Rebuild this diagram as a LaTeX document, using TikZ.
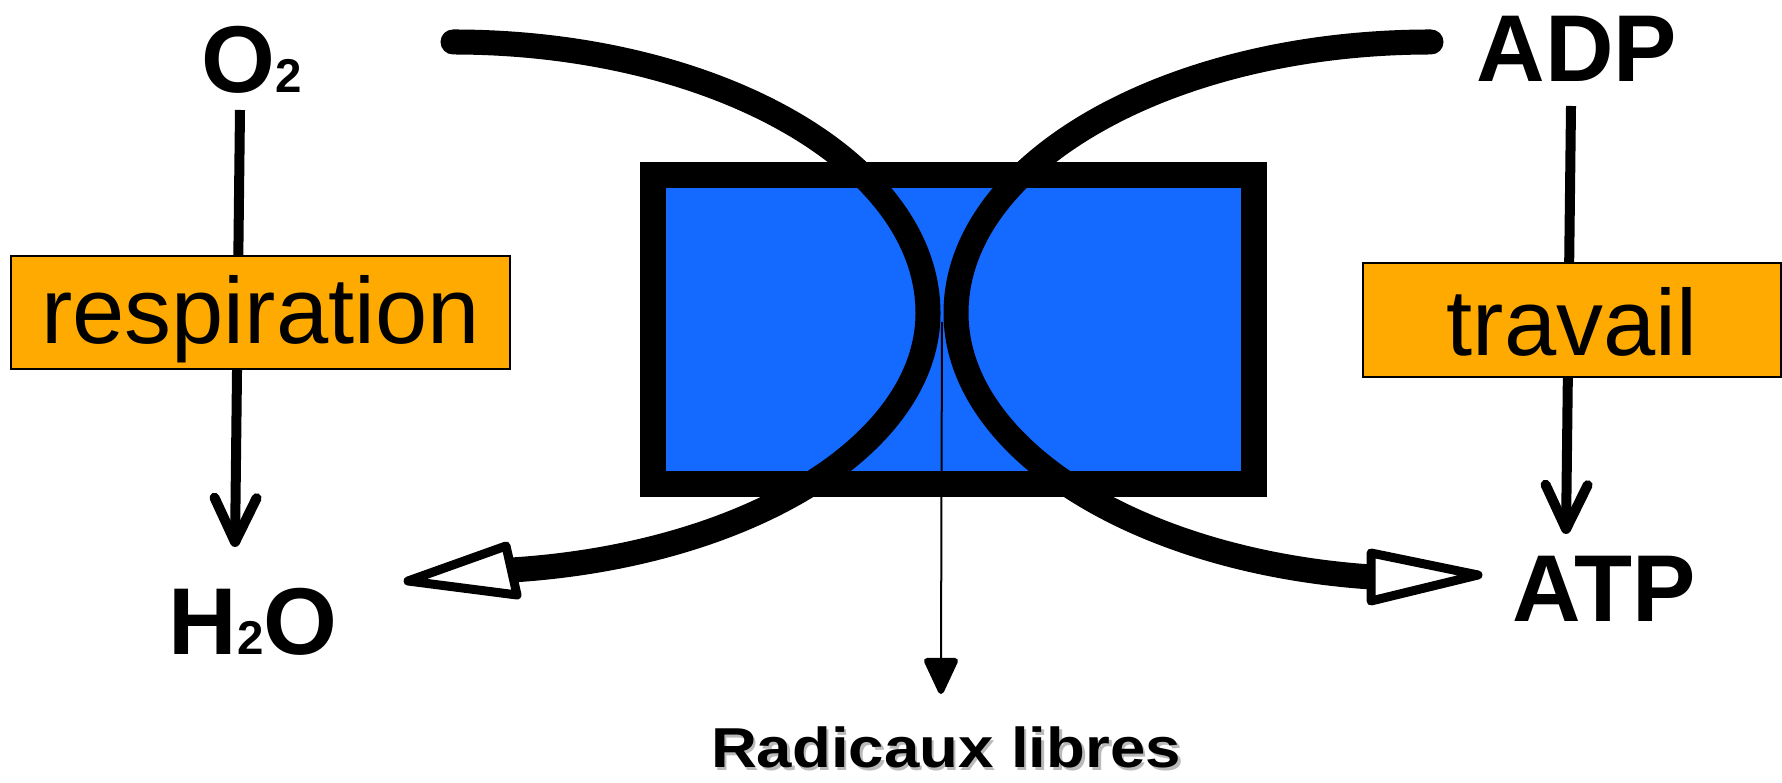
\documentclass[tikz,border=0pt]{standalone}
\usepackage{fontspec}
\setmainfont{Liberation Sans}
\usetikzlibrary{arrows.meta}
\definecolor{mitoblue}{RGB}{20,105,255}
\definecolor{labelorange}{RGB}{255,170,0}
\newcommand\chemsub[1]{{\fontsize{13.5}{15}\selectfont #1}}

\begin{document}
\begin{tikzpicture}[x=0.01cm, y=-0.01cm,
  species/.style={inner sep=0pt, anchor=base, font=\fontsize{27}{30}\selectfont\bfseries},
  process/.style={draw=black, line width=0.02cm, fill=labelorange, inner sep=0pt,
                  font=\fontsize{26.7}{30}\selectfont},
  flux/.style={line width=0.10cm, -{Straight Barb[length=0.44cm, width=0.42cm, round]}},
  membrane/.style={line width=0.25cm, line cap=round},
  openhead/.style={draw=black, fill=white, line width=0.09cm, line join=round},
  leakhead/.style={draw=black, fill=black, line width=0.06cm, line join=round},
]
\useasboundingbox (0,0) rectangle (1782,783);

% end points of the connectors
\coordinate (o2out)  at (240,110);
\coordinate (h2oin)  at (235,547);
\coordinate (adpout) at (1571,106);
\coordinate (atpin)  at (1566,534);

% oxygen consumption and ATP use
\draw[flux] (o2out) -- (h2oin);
\draw[flux] (adpout) -- (atpin);
\node[process, minimum width=4.99cm, minimum height=1.13cm,
      text height=0.67cm, text depth=0.05cm] (resp) at (260.5,312.5) {respiration};
\node[process, minimum width=4.18cm, minimum height=1.14cm,
      text height=0.70cm, text depth=0cm] (travail) at (1572,320) {travail};

% the mitochondrion
\node[draw=black, line width=0.26cm, fill=mitoblue, inner sep=0pt,
      minimum width=6.01cm, minimum height=3.09cm] (mito) at (953.5,329.5) {};

% free radical leak
\coordinate (tangent) at (942,322);
\coordinate (radbase) at (941,661);
\coordinate (radtip)  at (941,691);
\draw[line width=0.02cm] (tangent) -- (radbase);
\draw[leakhead] (radtip) -- ([xshift=-0.14cm]radbase) -- ([xshift=0.14cm]radbase) -- cycle;

% the two membrane arcs with their open heads
\coordinate (lstart) at (453,42);
\coordinate (lbase)  at (512,570);
\coordinate (lcornerA) at (506,546);
\coordinate (lcornerB) at (517,595);
\coordinate (ltip)   at (408,581);
\draw[membrane] (lstart) .. controls (715,42) and (928,163) .. (928,313)
  .. controls (928,444) and (749,555) .. (lbase);
\draw[openhead] (ltip) -- (lcornerA) -- (lcornerB) -- cycle;

\coordinate (rstart) at (1431,42);
\coordinate (rbase)  at (1371,577);
\coordinate (rcornerA) at (1371,553);
\coordinate (rcornerB) at (1371,601);
\coordinate (rtip)   at (1478,575);
\draw[membrane] (rstart) .. controls (1169,42) and (956,163) .. (956,313)
  .. controls (956,447) and (1135,561) .. (rbase);
\draw[openhead] (rtip) -- (rcornerA) -- (rcornerB) -- cycle;

% labels
\node[species] (o2)  at (252,93)   {O\chemsub{2}};
\node[species] (h2o) at (253,655)  {H\chemsub{2}O};
\node[species] (adp) at (1577,82)  {ADP};
\node[species] (atp) at (1604,622) {ATP};
\node[species, font=\fontsize{16}{18}\selectfont\bfseries, text=black!45, opacity=0.6]
  at (948.5,770.5) {\scalebox{1.13}[1]{Radicaux libres}};
\node[species, font=\fontsize{16}{18}\selectfont\bfseries] (radicaux)
  at (946,768) {\scalebox{1.13}[1]{Radicaux libres}};
\end{tikzpicture}
\end{document}
